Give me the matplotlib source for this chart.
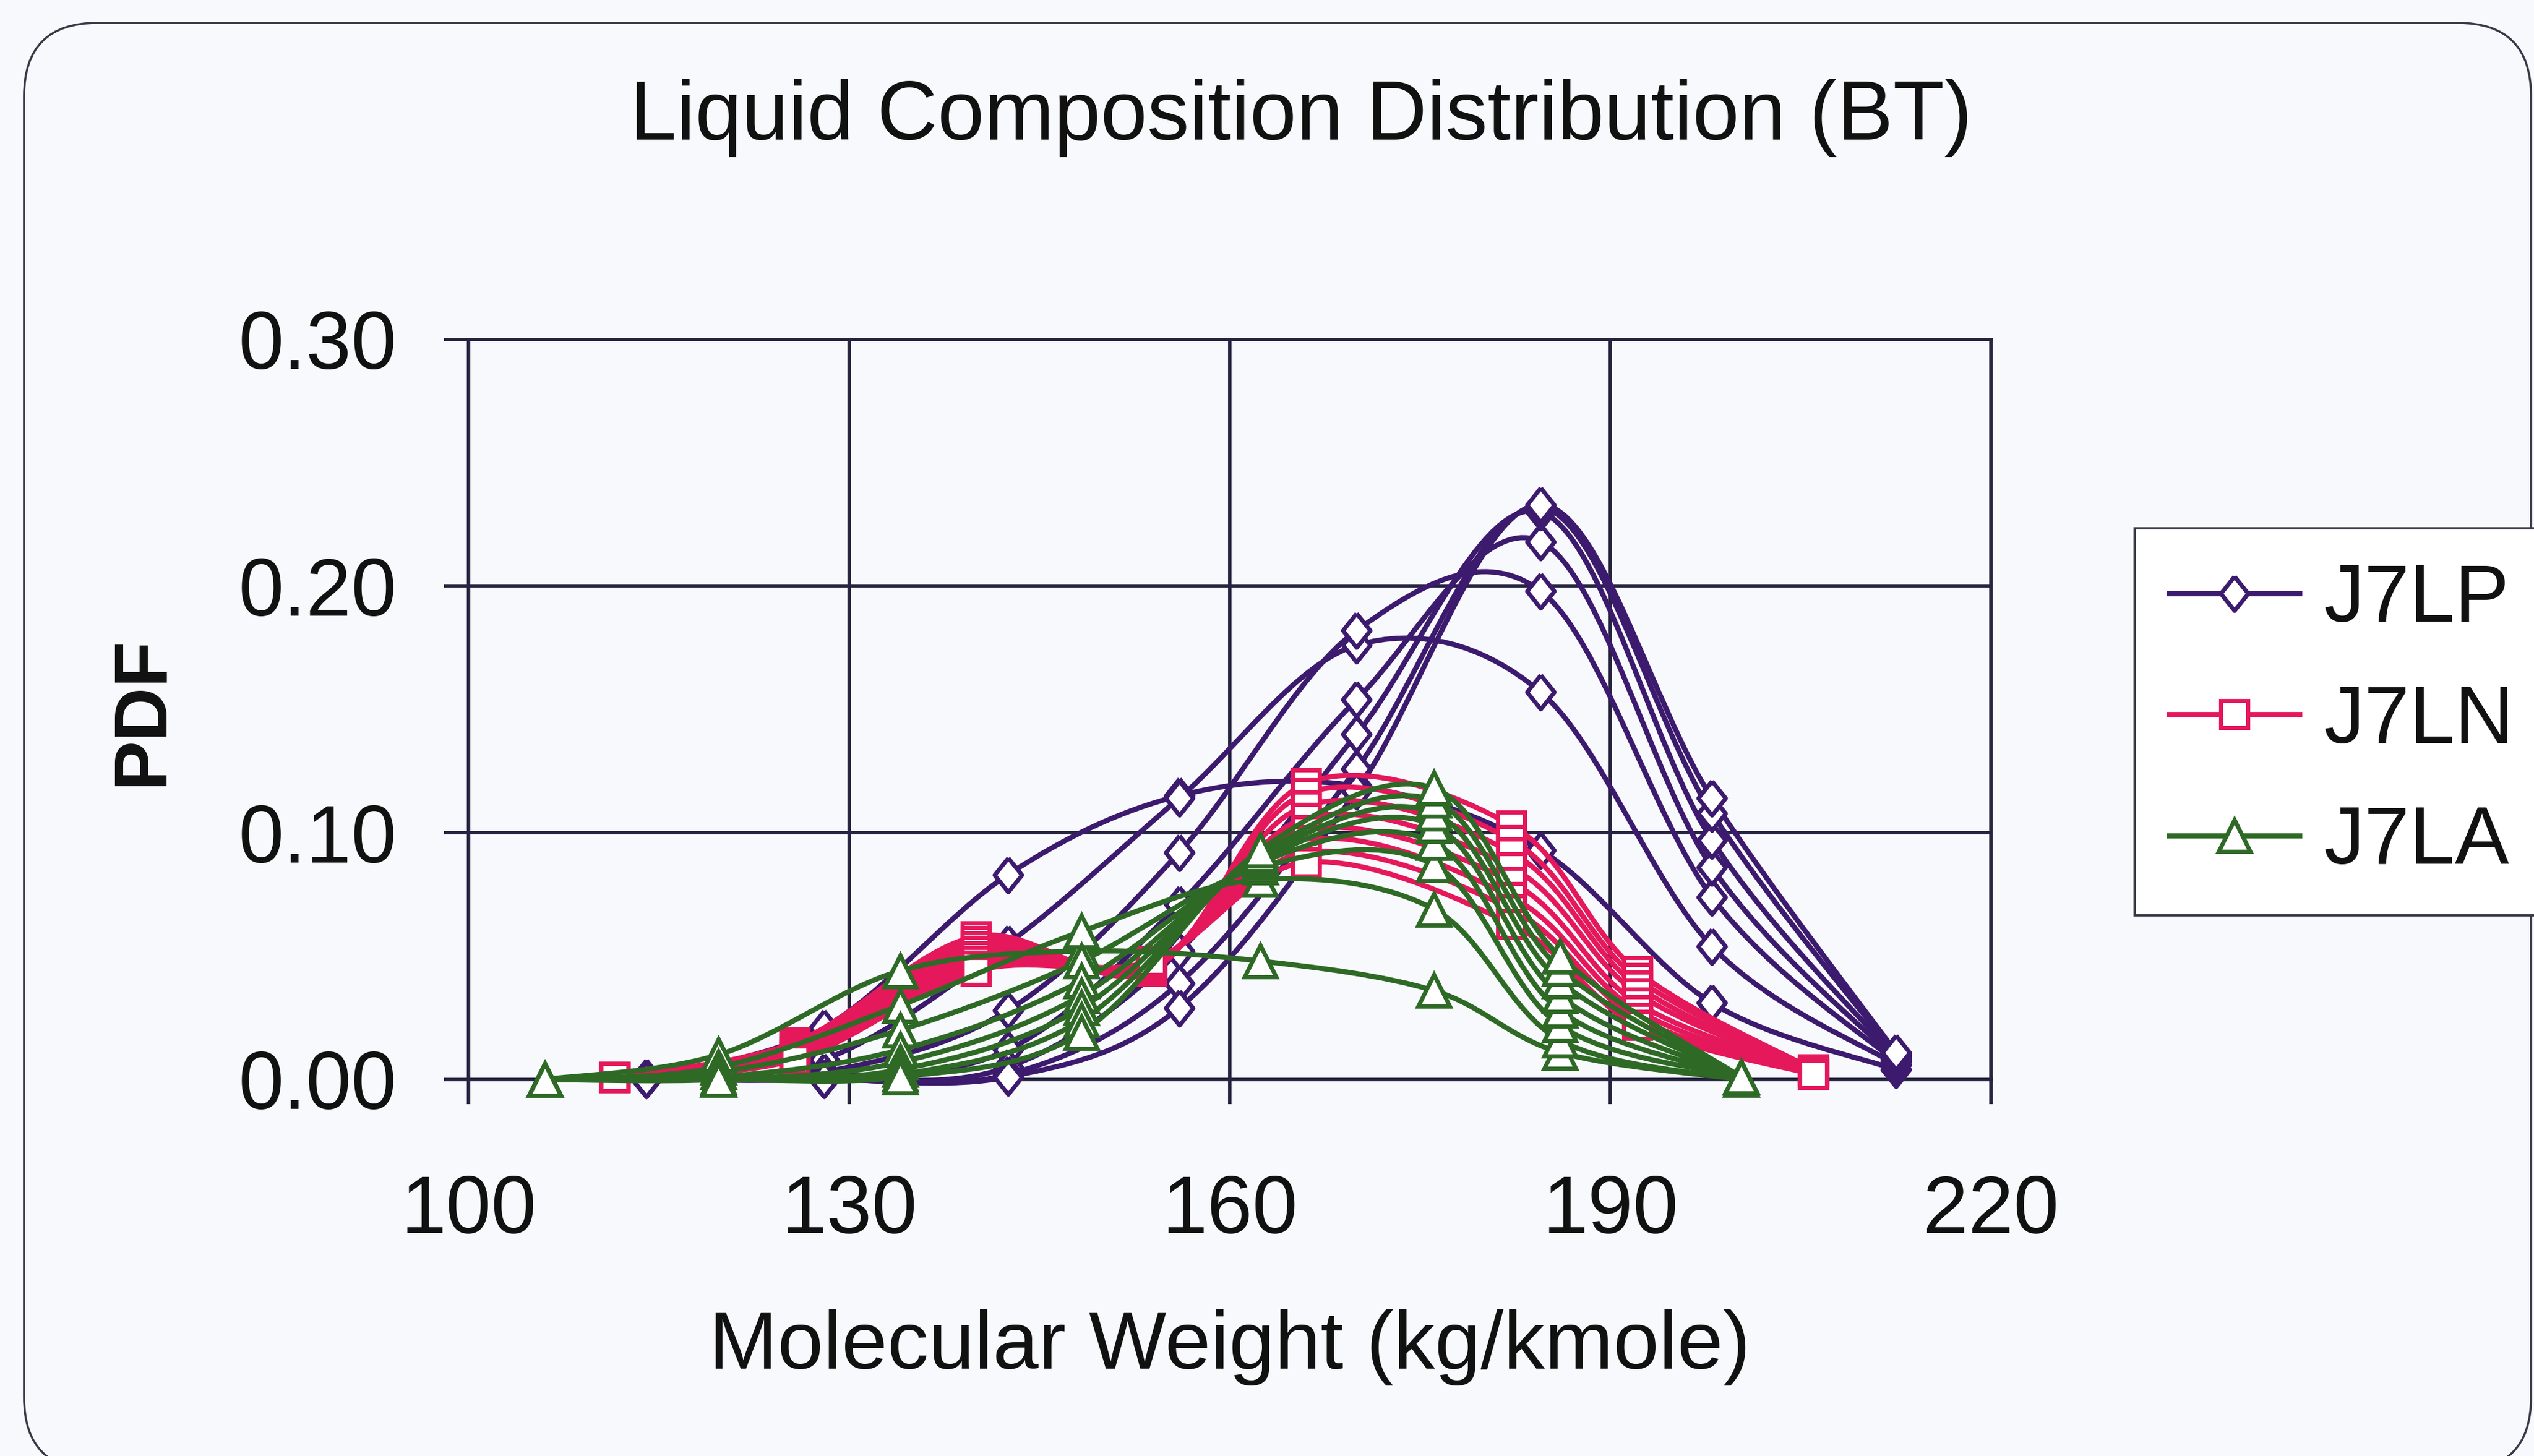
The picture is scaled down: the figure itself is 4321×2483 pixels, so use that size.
import numpy as np
import matplotlib
matplotlib.use("Agg")
import matplotlib.pyplot as plt
from matplotlib.path import Path
from matplotlib.patches import PathPatch, FancyBboxPatch
from matplotlib.lines import Line2D

# ---------------- data ----------------
mw_j7lp = [114, 128, 142.5, 156, 170, 184.5, 198, 212.5]
pdf_j7lp = [
    [0.001, 0.021, 0.083, 0.115, 0.119, 0.093, 0.031, 0.004],
    [0.000, 0.008, 0.055, 0.114, 0.176, 0.157, 0.054, 0.006],
    [0.000, 0.003, 0.028, 0.092, 0.182, 0.198, 0.074, 0.007],
    [0.000, 0.001, 0.012, 0.071, 0.154, 0.218, 0.086, 0.008],
    [0.000, 0.000, 0.005, 0.052, 0.140, 0.230, 0.097, 0.009],
    [0.000, 0.000, 0.002, 0.039, 0.126, 0.232, 0.108, 0.010],
    [0.000, 0.000, 0.001, 0.029, 0.117, 0.233, 0.114, 0.011],
]

mw_j7ln = [111.5, 125.7, 140, 153.8, 166, 182.2, 192.1, 206]
pdf_j7ln = [
    [0.001, 0.015, 0.058, 0.044, 0.120, 0.103, 0.044, 0.004],
    [0.001, 0.014, 0.056, 0.045, 0.116, 0.097, 0.041, 0.004],
    [0.001, 0.013, 0.054, 0.046, 0.111, 0.092, 0.038, 0.003],
    [0.001, 0.012, 0.052, 0.046, 0.106, 0.086, 0.035, 0.003],
    [0.001, 0.011, 0.050, 0.047, 0.101, 0.080, 0.031, 0.003],
    [0.001, 0.010, 0.048, 0.047, 0.097, 0.074, 0.028, 0.002],
    [0.001, 0.009, 0.046, 0.048, 0.092, 0.069, 0.025, 0.002],
    [0.001, 0.008, 0.044, 0.048, 0.088, 0.063, 0.022, 0.002],
]

mw_j7la = [106, 119.7, 134, 148.3, 162.4, 176.1, 186, 200.3]
pdf_j7la = [
    [0.000, 0.010, 0.044, 0.052, 0.048, 0.036, 0.011, 0.000],
    [0.000, 0.005, 0.030, 0.060, 0.081, 0.069, 0.016, 0.000],
    [0.000, 0.003, 0.020, 0.048, 0.086, 0.087, 0.022, 0.001],
    [0.000, 0.001, 0.012, 0.040, 0.088, 0.096, 0.028, 0.001],
    [0.000, 0.000, 0.007, 0.034, 0.089, 0.103, 0.034, 0.001],
    [0.000, 0.000, 0.004, 0.029, 0.090, 0.108, 0.040, 0.001],
    [0.000, 0.000, 0.002, 0.024, 0.091, 0.113, 0.045, 0.001],
    [0.000, 0.000, 0.001, 0.019, 0.093, 0.118, 0.050, 0.001],
]

series_names = ["J7LP", "J7LN", "J7LA"]
x_ticks = [100, 130, 160, 190, 220]
y_ticks = [0.00, 0.10, 0.20, 0.30]

# ---------------- style ----------------
plt.rcParams['font.family'] = ['Liberation Sans', 'DejaVu Sans']
C_LP = '#3c1a6e'
C_LN = '#e5185c'
C_LA = '#2e6a26'
GRID = '#262440'
BG = '#f8f9fc'
LW = 6.3
MEW = 5.2

diamond = [(0, 1), (0.8, 0), (0, -1), (-0.8, 0), (0, 1)]

W, H = 4321, 2483
fig = plt.figure(figsize=(W / 100, H / 100), dpi=100, facecolor=BG)

# rounded chart border
border = FancyBboxPatch((0.41, -0.25), 43.16 - 0.41, 24.44 + 0.25,
                        boxstyle="round,pad=0,rounding_size=1.25",
                        transform=fig.dpi_scale_trans, facecolor='none',
                        edgecolor='#3a3848', linewidth=2.6, zorder=-1)
fig.patches.append(border)

ax = fig.add_axes([290 / 1568, 1 - 668 / 901, (1232 - 290) / 1568, (668 - 210) / 901])
ax.set_facecolor('none')
ax.set_xlim(100, 220)
ax.set_ylim(0, 0.30)
ax.set_xticks(x_ticks)
ax.set_yticks(y_ticks)
ax.set_xticklabels([str(v) for v in x_ticks])
ax.set_yticklabels([f"{v:.2f}" for v in y_ticks])
ax.grid(True, color=GRID, linewidth=4.2)
ax.set_axisbelow(True)
for s in ax.spines.values():
    s.set_color(GRID)
    s.set_linewidth(4.2)
ax.tick_params(axis='both', direction='out', length=30, width=4.2, color=GRID,
               labelsize=100, labelcolor='#111111')
ax.tick_params(axis='y', pad=58)
ax.tick_params(axis='x', pad=86)


def smooth_path(x, y):
    pts = np.column_stack([x, y]).astype(float)
    n = len(pts)
    verts = [pts[0]]
    codes = [Path.MOVETO]
    for i in range(n - 1):
        p0 = pts[max(i - 1, 0)]
        p1 = pts[i]
        p2 = pts[i + 1]
        p3 = pts[min(i + 2, n - 1)]
        c1 = p1 + (p2 - p0) / 6.0
        c2 = p2 - (p3 - p1) / 6.0
        verts += [c1, c2, p2]
        codes += [Path.CURVE4] * 3
    return Path(verts, codes)


def draw_series(xs, curves, color, marker, ms, z):
    for ys in curves:
        patch = PathPatch(smooth_path(xs, ys), facecolor='none', edgecolor=color,
                          linewidth=LW, zorder=z, clip_on=False)
        ax.add_patch(patch)
    for ys in curves:
        ax.plot(xs, ys, linestyle='none', marker=marker, markersize=ms,
                markerfacecolor='white', markeredgecolor=color,
                markeredgewidth=MEW, zorder=z + 0.5, clip_on=False)


draw_series(mw_j7lp, pdf_j7lp, C_LP, diamond, 42, 3)
draw_series(mw_j7ln, pdf_j7ln, C_LN, 's', 33, 4)
draw_series(mw_j7la, pdf_j7la, C_LA, '^', 39, 5)

# title and axis labels
fig.text(805 / 1568, 1 - 73 / 901, "Liquid Composition Distribution (BT)",
         ha='center', va='center', fontsize=103, color='#111111')
ax.set_xlabel("Molecular Weight (kg/kmole)", fontsize=101, color='#111111')
ax.xaxis.set_label_coords(0.5, (668 - 834) / 458)
ax.xaxis.label.set_va('center')
ax.set_ylabel("PDF", fontsize=92, fontweight='bold', color='#111111')
ax.yaxis.set_label_coords((88 - 290) / 942, 0.498)
ax.yaxis.label.set_va('center')

# legend
handles = [
    Line2D([], [], color=C_LP, linewidth=LW, marker=diamond, markersize=42,
           markerfacecolor='white', markeredgecolor=C_LP, markeredgewidth=MEW),
    Line2D([], [], color=C_LN, linewidth=LW, marker='s', markersize=33,
           markerfacecolor='white', markeredgecolor=C_LN, markeredgewidth=MEW),
    Line2D([], [], color=C_LA, linewidth=LW, marker='^', markersize=39,
           markerfacecolor='white', markeredgecolor=C_LA, markeredgewidth=MEW),
]
leg = fig.legend(handles, series_names, loc='upper left',
                 bbox_to_anchor=(1321 / 1568, 1 - 327 / 901),
                 fontsize=100, frameon=True, fancybox=False, shadow=False,
                 borderaxespad=0, borderpad=0.42, handlelength=1.6,
                 handletextpad=0.3, labelspacing=0.55, edgecolor='#3a3848',
                 facecolor='white', framealpha=1)
leg.get_frame().set_linewidth(2.8)
for t in leg.get_texts():
    t.set_color('#111111')

fig.savefig("out.png", dpi=100, facecolor=BG)
